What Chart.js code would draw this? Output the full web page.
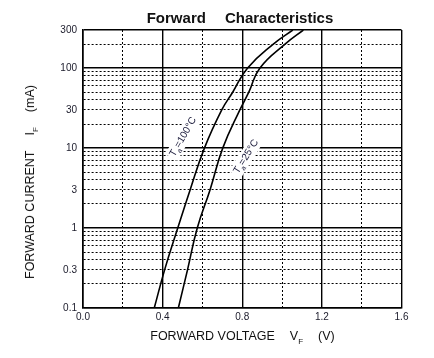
<!DOCTYPE html>
<html><head><meta charset="utf-8">
<script src="https://cdn.jsdelivr.net/npm/chart.js@4/dist/chart.umd.min.js"></script>
<style>
html,body{margin:0;padding:0;background:#fff;}
#wrap{position:relative;width:434px;height:358px;font-family:"Liberation Sans",Arial,sans-serif;color:#111;overflow:hidden;}
canvas{position:absolute;left:0;top:0;}
.t{position:absolute;white-space:nowrap;line-height:1;}
.t sub{font-size:8px;vertical-align:-4px;line-height:1;}
</style></head><body>
<div id="wrap">
<canvas id="c" width="434" height="358"></canvas>
<div class="t" id="title" style="left:240px;top:17px;transform:translate(-50%,-50%);font-size:15px;font-weight:bold;">Forward<span style="display:inline-block;width:19px"></span>Characteristics</div>
<div class="t" id="xt" style="left:242.5px;top:338px;transform:translate(-50%,-50%);font-size:12.5px;">FORWARD VOLTAGE<span style="display:inline-block;width:15px"></span>V<sub>F</sub><span style="display:inline-block;width:15px"></span>(V)</div>
<div class="t" id="yt" style="left:31.5px;top:182px;transform:translate(-50%,-50%) rotate(-90deg);font-size:12.5px;">FORWARD CURRENT<span style="display:inline-block;width:15px"></span>I<sub>F</sub><span style="display:inline-block;width:15px"></span>(mA)</div>
</div>
<script>
// Forward characteristics
const voltage100 = [0.358, 0.410, 0.476, 0.538, 0.610, 0.697, 0.752, 0.826, 0.956, 1.054];
const current100 = [0.1,   0.3,   1,     3,     10,    30,    50,    100,   200,   300];
const voltage25  = [0.479, 0.525, 0.574, 0.638, 0.702, 0.788, 0.833, 0.888, 1.015, 1.107];
const current25  = [0.1,   0.3,   1,     3,     10,    30,    50,    100,   200,   300];

const xTickValues = [0, 0.2, 0.4, 0.6, 0.8, 1.0, 1.2, 1.4, 1.6];
const xLabelValues = [0, 0.4, 0.8, 1.2, 1.6];
const xMajorValues = [0, 0.4, 0.8, 1.2, 1.6];

const yTickValues = [0.1,0.2,0.3,0.4,0.5,0.6,0.7,0.8,0.9,
                     1,2,3,4,5,6,7,8,9,
                     10,20,30,40,50,60,70,80,90,
                     100,200,300];
const yLabelValues = [0.1, 0.3, 1, 3, 10, 30, 100, 300];
const yMajorValues = [0.1, 1, 10, 100, 300];

const curveLabelText = [['T','a','=100°C'], ['T','a','=25°C']];
const curveLabelV = [0.503, 0.819];
const curveLabelI = [13.8, 7.8];
const curveLabelAngle = [-60, -58];

const near = (a, b) => Math.abs(a - b) < 1e-6 * Math.max(1, Math.abs(b));
const inList = (v, list) => list.some(x => near(v, x));

const labelPlugin = {
  id: 'curveLabels',
  beforeDatasetsDraw(chart) {
    const ctx = chart.ctx;
    const xs = chart.scales.x, ys = chart.scales.y;
    curveLabelText.forEach((parts, k) => {
      const px = xs.getPixelForValue(curveLabelV[k]);
      const py = ys.getPixelForValue(curveLabelI[k]);
      ctx.save();
      ctx.translate(px, py);
      ctx.rotate(curveLabelAngle[k] * Math.PI / 180);
      const big = '10px "Liberation Sans", Arial, sans-serif';
      const small = '7px "Liberation Sans", Arial, sans-serif';
      ctx.font = big;
      const w1 = ctx.measureText(parts[0]).width;
      const w3 = ctx.measureText(parts[2]).width;
      ctx.font = small;
      const w2 = ctx.measureText(parts[1]).width;
      const w = w1 + w2 + w3;
      ctx.fillStyle = '#fff';
      ctx.fillRect(-w / 2 - 2, -7, w + 4, 14);
      ctx.fillStyle = '#1a1a3a';
      ctx.textBaseline = 'middle';
      ctx.textAlign = 'left';
      let x0 = -w / 2;
      ctx.font = big;
      ctx.fillText(parts[0], x0, 0);
      x0 += w1;
      ctx.font = small;
      ctx.fillText(parts[1], x0, 4);
      x0 += w2;
      ctx.font = big;
      ctx.fillText(parts[2], x0, 0);
      ctx.restore();
    });
  }
};

const toPts = (vs, is) => vs.map((v, i) => ({x: v, y: is[i]}));

new Chart(document.getElementById('c'), {
  type: 'line',
  data: {
    datasets: [
      {label: 'Ta=100°C', data: toPts(voltage100, current100), borderColor: '#000', borderWidth: 1.6, pointRadius: 0, tension: 0.45, fill: false},
      {label: 'Ta=25°C', data: toPts(voltage25, current25), borderColor: '#000', borderWidth: 1.6, pointRadius: 0, tension: 0.45, fill: false}
    ]
  },
  options: {
    responsive: false,
    animation: false,
    layout: {padding: {left: 0, top: 30, right: 32.5, bottom: 30}},
    plugins: {legend: {display: false}, title: {display: false}, tooltip: {enabled: false}},
    scales: {
      x: {
        type: 'linear', min: 0, max: 1.6,
        afterBuildTicks: s => { s.ticks = xTickValues.map(v => ({value: v})); },
        afterFit: s => { s.height = 20; },
        ticks: {
          autoSkip: false, maxRotation: 0, padding: 3,
          color: '#1a1a2a',
          font: {family: '"Liberation Sans", Arial, sans-serif', size: 10},
          callback: v => inList(v, xLabelValues) ? Number(v).toFixed(1) : ''
        },
        grid: {
          drawTicks: false, color: '#000',
          lineWidth: c => (c.tick && inList(c.tick.value, xMajorValues)) ? 1.4 : 1
        },
        border: {
          display: true, color: '#000', width: 1.6,
          dash: c => (c.tick && !inList(c.tick.value, xMajorValues)) ? [2, 2] : []
        }
      },
      y: {
        type: 'logarithmic', min: 0.1, max: 300,
        afterBuildTicks: s => { s.ticks = yTickValues.map(v => ({value: v})); },
        afterFit: s => { s.width = 83; },
        ticks: {
          autoSkip: false, padding: 6,
          color: '#1a1a2a',
          font: {family: '"Liberation Sans", Arial, sans-serif', size: 10},
          callback: v => inList(v, yLabelValues) ? String(v) : ''
        },
        grid: {
          drawTicks: false, color: '#000',
          lineWidth: c => (c.tick && inList(c.tick.value, yMajorValues)) ? 1.4 : 1
        },
        border: {
          display: true, color: '#000', width: 1.6,
          dash: c => (c.tick && !inList(c.tick.value, yMajorValues)) ? [2, 2] : []
        }
      }
    }
  },
  plugins: [labelPlugin]
});
</script>
</body></html>
